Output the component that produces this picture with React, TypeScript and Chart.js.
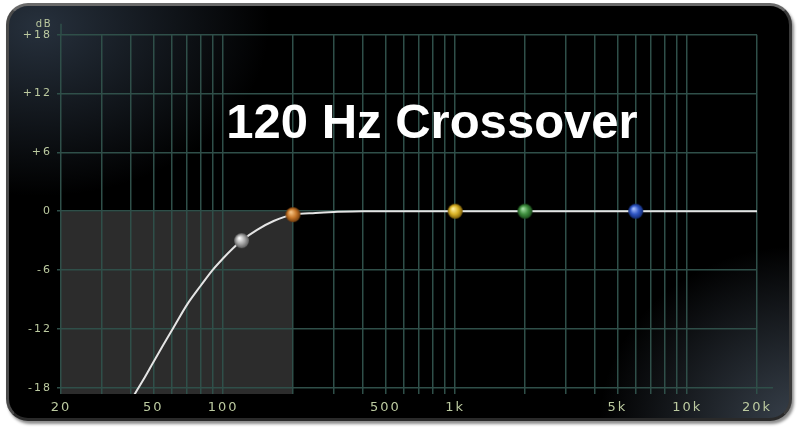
import React, { useEffect, useRef } from "react";
import { Chart, registerables } from "chart.js";

Chart.register(...registerables);

// ---- data ----
const freqGrid = [20, 30, 40, 50, 60, 70, 80, 90, 100, 200, 300, 400, 500, 600, 700, 800, 900, 1000, 2000, 3000, 4000, 5000, 6000, 7000, 8000, 9000, 10000, 20000];
const freqLabelValues = [20, 50, 100, 500, 1000, 5000, 10000, 20000];
const freqLabelTexts = ["20", "50", "100", "500", "1k", "5k", "10k", "20k"];
const dbTicks = [-18, -12, -6, 0, 6, 12, 18];
const dbLabels = ["-18", "-12", "-6", "0", "+6", "+12", "+18"];

const curveFreq = [40, 45, 50, 55, 62, 70, 80, 90, 100, 110, 120, 140, 165, 200, 250, 300, 400, 600, 1000, 2000, 6000, 20000];
const curveDb = [-19.3, -17.3, -15.4, -13.7, -11.6, -9.5, -7.6, -6.0, -4.8, -3.8, -3.0, -1.9, -1.0, -0.35, -0.17, -0.08, 0, 0, 0, 0, 0, 0];

const shadeFreq = [20, 200];
const shadeDb = [0, 0];

const nodeFreq = [120, 200, 1000, 2000, 6000];
const nodeDb = [-3.0, -0.35, 0, 0, 0];
const nodeBase = ["#a9a9a9", "#c8782a", "#d9b226", "#3f8f3f", "#2f56c4"];
const nodeLight = ["#ffffff", "#f7c88a", "#fff0a0", "#a6e0a6", "#a8c0ff"];
const nodeDark = ["#5a5a5a", "#6e3a0c", "#7a5c08", "#1a4a1a", "#122a70"];

const TITLE = "120 Hz Crossover";

const gridColor = "#2f4f49";
const labelColor = "#bccaa0";

function sphere(base: string, light: string, dark: string, r: number) {
  const c = document.createElement("canvas");
  const s = Math.ceil(r * 2) + 2;
  c.width = s;
  c.height = s;
  const g = c.getContext("2d")!;
  const cx = s / 2;
  const cy = s / 2;
  const grad = g.createRadialGradient(cx - r * 0.3, cy - r * 0.35, r * 0.05, cx, cy, r);
  grad.addColorStop(0, light);
  grad.addColorStop(0.55, base);
  grad.addColorStop(1, dark);
  g.fillStyle = grad;
  g.beginPath();
  g.arc(cx, cy, r, 0, Math.PI * 2);
  g.fill();
  return c;
}

export default function App() {
  const ref = useRef<HTMLCanvasElement | null>(null);

  useEffect(() => {
    const canvas = ref.current;
    if (!canvas) return;
    const sprites = nodeBase.map((b, i) => sphere(b, nodeLight[i], nodeDark[i], 7.5));

    const decor = {
      id: "decor",
      beforeDraw(chart: any) {
        chart.ctx.letterSpacing = "2px";
      },
      afterDraw(chart: any) {
        const ctx = chart.ctx as CanvasRenderingContext2D;
        const xs = chart.scales.x;
        const ys = chart.scales.y;
        const area = chart.chartArea;
        ctx.save();
        (ctx as any).letterSpacing = "0px";
        ctx.strokeStyle = gridColor;
        ctx.lineWidth = 1.5;
        // axis extensions
        const x20 = xs.getPixelForValue(20);
        const yTop = ys.getPixelForValue(18);
        ctx.beginPath();
        ctx.moveTo(x20, yTop - 11);
        ctx.lineTo(x20, yTop);
        const yBot = ys.getPixelForValue(-18);
        ctx.moveTo(area.right, yBot);
        ctx.lineTo(area.right + 16, yBot);
        ctx.stroke();
        // dB unit
        ctx.fillStyle = labelColor;
        (ctx as any).letterSpacing = "1.5px";
        ctx.font = '10px "DejaVu Sans"';
        ctx.textAlign = "right";
        ctx.textBaseline = "middle";
        ctx.fillText("dB", area.left - 9, yTop - 10);
        // title
        (ctx as any).letterSpacing = "0px";
        ctx.font = 'bold 49px "Liberation Sans", Arial, sans-serif';
        ctx.fillStyle = "#ffffff";
        ctx.textAlign = "center";
        ctx.textBaseline = "alphabetic";
        ctx.fillText(TITLE, 432, 138);
        ctx.restore();
      },
    };

    const chart = new Chart(canvas, {
      type: "line",
      data: {
        datasets: [
          {
            label: "shade",
            data: shadeFreq.map((f, i) => ({ x: f, y: shadeDb[i] })),
            borderWidth: 0,
            pointRadius: 0,
            fill: "start",
            backgroundColor: "#2c2c2c",
            order: 3,
          },
          {
            label: "response",
            data: curveFreq.map((f, i) => ({ x: f, y: curveDb[i] })),
            borderColor: "#e4e4e4",
            borderWidth: 2,
            pointRadius: 0,
            fill: false,
            cubicInterpolationMode: "monotone",
            order: 2,
          },
          {
            label: "nodes",
            data: nodeFreq.map((f, i) => ({ x: f, y: nodeDb[i] })),
            showLine: false,
            pointStyle: sprites as any,
            pointRadius: 7,
            order: 1,
          },
        ],
      } as any,
      options: {
        responsive: false,
        animation: false,
        events: [],
        layout: { padding: { top: 34.7, right: 43, left: 0, bottom: 0 } },
        plugins: {
          legend: { display: false },
          tooltip: { enabled: false },
          title: { display: false },
          filler: { drawTime: "beforeDraw" } as any,
        },
        scales: {
          x: {
            type: "logarithmic",
            min: 20,
            max: 20000,
            afterBuildTicks: (s: any) => {
              s.ticks = freqGrid.map((v) => ({ value: v }));
            },
            afterFit: (s: any) => {
              s.height = 35;
            },
            grid: { color: gridColor, lineWidth: 1.5, drawTicks: false },
            border: { display: false },
            ticks: {
              autoSkip: false,
              maxRotation: 0,
              minRotation: 0,
              color: labelColor,
              font: { family: "DejaVu Sans", size: 13 },
              padding: 6,
              callback: (v: any) => {
                const i = freqLabelValues.indexOf(Number(v));
                return i >= 0 ? freqLabelTexts[i] : "";
              },
            },
          },
          y: {
            type: "linear",
            min: -18.64,
            max: 18,
            afterBuildTicks: (s: any) => {
              s.ticks = dbTicks.map((v) => ({ value: v }));
            },
            afterFit: (s: any) => {
              s.width = 61;
            },
            grid: { color: gridColor, lineWidth: 1.5, drawTicks: true, tickLength: 4 },
            border: { display: false },
            ticks: {
              color: labelColor,
              font: { family: "DejaVu Sans", size: 11 },
              padding: 5,
              callback: (v: any) => {
                const i = dbTicks.indexOf(Number(v));
                return i >= 0 ? dbLabels[i] : "";
              },
            },
          },
        },
      } as any,
      plugins: [decor],
    });
    return () => chart.destroy();
  }, []);

  return (
    <div style={{ position: "absolute", left: 0, top: 0, width: 800, height: 429, background: "#ffffff", overflow: "hidden" }}>
      <div
        style={{
          position: "absolute",
          left: 6,
          top: 3,
          width: 786,
          height: 418,
          boxSizing: "border-box",
          borderRadius: 22,
          borderStyle: "solid",
          borderWidth: 3,
          borderColor: "#6a6a6a #3a3a3a #2a2a2a #4a4a4a",
          boxShadow: "2px 3px 3px rgba(0,0,0,0.45)",
          background:
            "radial-gradient(ellipse 230px 170px at 30px 20px, rgba(70,88,110,0.55), rgba(0,0,0,0) 100%)," +
            "radial-gradient(ellipse 200px 180px at 790px 420px, rgba(95,110,128,0.6), rgba(0,0,0,0) 100%)," +
            "#000000",
        }}
      />
      <canvas ref={ref} width={800} height={429} style={{ position: "absolute", left: 0, top: 0, width: 800, height: 429 }} />
    </div>
  );
}
